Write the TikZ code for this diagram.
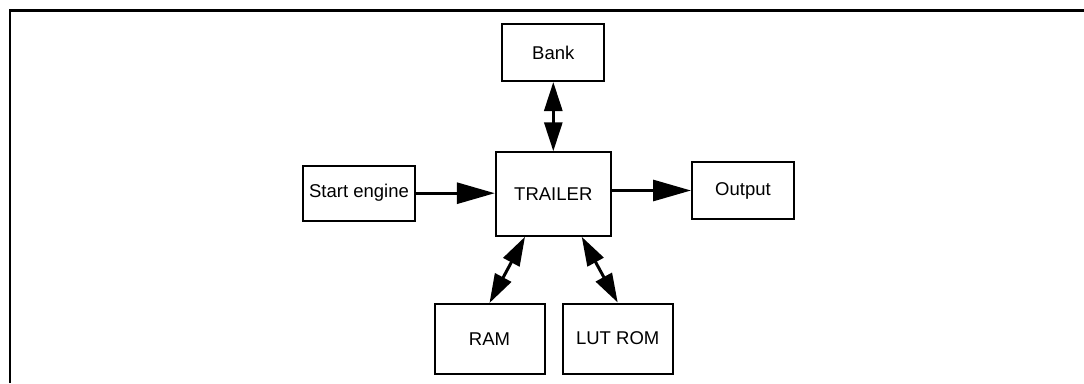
\documentclass[tikz,border=0pt]{standalone}
\usepackage{fontspec}
\setmainfont{Liberation Sans}
\usetikzlibrary{arrows.meta,calc}

\tikzset{
  blk/.style={draw, line width=2pt, inner sep=0pt, font=\fontsize{18.5}{18.5}\selectfont},
  flow/.style={line width=3pt, -{Triangle[length=38pt,width=21pt]}},
  link/.style={line width=3pt, {Triangle[length=29pt,width=18pt]}-{Triangle[length=29pt,width=18pt]}},
  frame/.style={line width=2.5pt}
}

\begin{document}
\begin{tikzpicture}[x=1pt,y=-1pt]
  \useasboundingbox (0,0) rectangle (1084,383);

  % open frame around the diagram
  \coordinate (fbl) at (10,383);
  \coordinate (ftl) at (10,10.3);
  \coordinate (ftr) at (1084,10.3);
  \draw[frame] (fbl) -- (ftl) -- (ftr);

  % blocks
  \node[blk, minimum width=102pt, minimum height=57pt]   (bank)    at (553.3,52.5)  {Bank};
  \node[blk, minimum width=115pt, minimum height=83.5pt] (trailer) at (553.3,194)   {TRAILER};
  \node[blk, minimum width=112pt, minimum height=55pt]   (start)   at (359,193.2)   {Start engine};
  \node[blk, minimum width=102pt, minimum height=57.6pt] (output)  at (743,190.5)   {Output};
  \node[blk, minimum width=110pt, minimum height=70pt]   (ram)     at (489.5,339)   {RAM};
  \node[blk, minimum width=110pt, minimum height=70pt]   (lut)     at (617.7,338.5) {LUT ROM};

  % connectors
  \draw[link] (bank.south) -- (trailer.north);
  \draw[flow] (start.east) -- (start.east -| trailer.west);
  \draw[flow] (trailer.east |- output.west) -- (output.west);
  \draw[link] ($(trailer.south)+(-28.3,0)$) -- (ram.north);
  \draw[link] ($(trailer.south)+(28.4,0)$) -- (lut.north);
\end{tikzpicture}
\end{document}
